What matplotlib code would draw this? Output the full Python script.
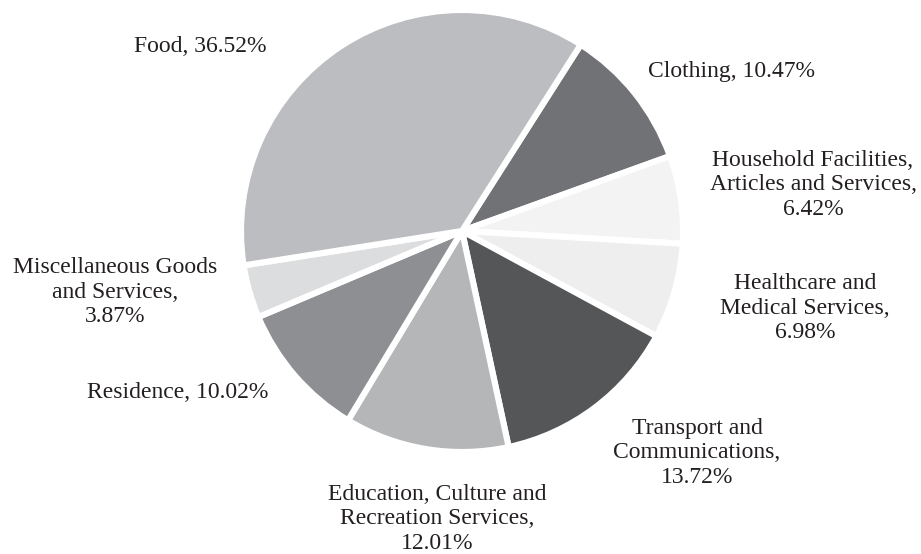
import matplotlib
matplotlib.use("Agg")
import matplotlib.pyplot as plt

plt.rcParams["font.family"] = ["Liberation Serif", "DejaVu Serif"]

# Consumption expenditure shares, in clockwise order starting from Clothing
categories = [
    "Clothing",
    "Household Facilities,\nArticles and Services",
    "Healthcare and\nMedical Services",
    "Transport and\nCommunications",
    "Education, Culture and\nRecreation Services",
    "Residence",
    "Miscellaneous Goods\nand Services",
    "Food",
]
shares = [10.47, 6.42, 6.98, 13.72, 12.01, 10.02, 3.87, 36.52]
colors = ["#717276", "#f2f3f2", "#eeeeee", "#555658",
          "#b5b6b8", "#8e8f92", "#dcdddf", "#bcbdc0"]

# label anchor points (figure pixels, origin at top-left) and line layout
label_pos = [(731, 72), (813, 185), (805, 308), (697, 453),
             (437, 519), (178, 393), (115, 292), (200, 47)]
single_line = [True, False, False, False, False, True, False, True]

W, H = 921, 554
fig = plt.figure(figsize=(W / 100, H / 100), dpi=100)
ax = fig.add_axes([0, 0, 1, 1])

ax.pie(shares, colors=colors, startangle=57.5, counterclock=False,
       center=(462, H - 231), radius=221, frame=True,
       wedgeprops=dict(edgecolor="white", linewidth=4.4))
ax.set_xlim(0, W)
ax.set_ylim(0, H)
ax.set_aspect("equal")
ax.axis("off")

for name, val, (x, y), one in zip(categories, shares, label_pos, single_line):
    pct = f"{val:.2f}%"
    text = f"{name}, {pct}" if one else f"{name},\n{pct}"
    ax.text(x, H - y, text, ha="center", va="center", fontsize=17,
            color="#231f20", linespacing=1.2, multialignment="center")

fig.savefig("out.png", dpi=100)
